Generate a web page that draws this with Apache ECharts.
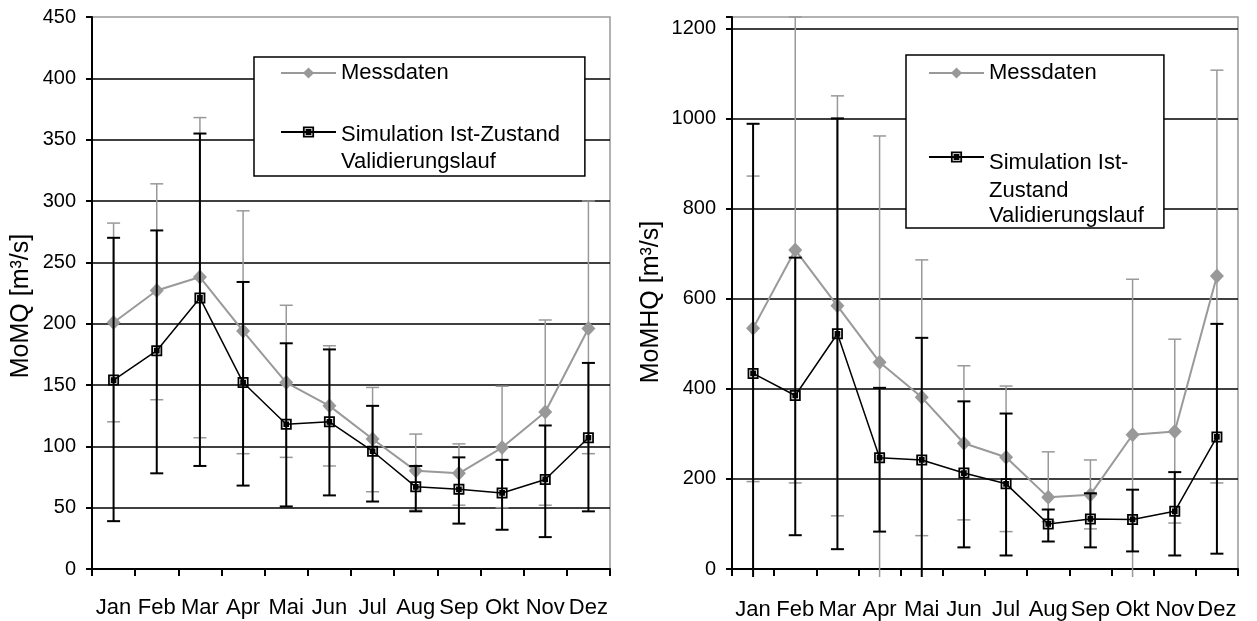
<!DOCTYPE html>
<html><head><meta charset="utf-8">
<script src="https://cdn.jsdelivr.net/npm/echarts@6/dist/echarts.min.js"></script>
<style>html,body{margin:0;padding:0;background:#fff}#c{width:1257px;height:621px}</style>
</head><body><div id="c"></div>
<script>
// ---- data ----
const months = ['Jan','Feb','Mar','Apr','Mai','Jun','Jul','Aug','Sep','Okt','Nov','Dez'];
const seriesNames = ['Messdaten', 'Simulation Ist-Zustand Validierungslauf'];
const legendLinesLeft = [['Messdaten'], ['Simulation Ist-Zustand', 'Validierungslauf']];
const legendLinesRight = [['Messdaten'], ['Simulation Ist-', 'Zustand', 'Validierungslauf']];
const yTitleLeft = 'MoMQ [m³/s]';
const yTitleRight = 'MoMHQ [m³/s]';

// left: MoMQ
const messMQ      = [201, 227, 238, 194, 152, 133, 106, 80, 78, 99, 128, 196];
const messMQLow   = [120, 138, 107, 94, 91, 84, 63, 48, 52, 50, 52, 94];
const messMQHigh  = [282, 314, 368, 292, 215, 182, 148, 110, 102, 149, 203, 300];
const simMQ       = [154, 178, 221, 152, 118, 120, 96, 67, 65, 62, 73, 107];
const simMQLow    = [39, 78, 84, 68, 51, 60, 55, 47, 37, 32, 26, 47];
const simMQHigh   = [270, 276, 355, 234, 184, 179, 133, 84, 91, 89, 117, 168];

// right: MoMHQ
const messMHQ     = [534, 708, 584, 459, 381, 279, 248, 159, 165, 298, 305, 650];
const messMHQLow  = [194, 191, 118, -60, 74, 109, 83, 105, 89, -60, 102, 191];
const messMHQHigh = [872, 1225, 1050, 961, 686, 451, 406, 260, 242, 643, 510, 1107];
const simMHQ      = [434, 385, 522, 247, 242, 213, 189, 100, 111, 110, 128, 293];
const simMHQLow   = [-60, 75, 44, 83, -60, 48, 30, 61, 48, 39, 30, 34];
const simMHQHigh  = [988, 691, 1000, 402, 513, 372, 345, 132, 168, 176, 215, 544];

// ---- style ----
const FONT = '"Liberation Sans", Arial, Helvetica, sans-serif';
const GRAY = '#999999';
const BLACK = '#000000';
const simSymbol = 'path://M0,0L10,0L10,10L0,10Z M1.6,1.6L1.6,8.4L8.4,8.4L8.4,1.6Z M2.4,2.4L7.6,2.4L7.6,7.6L2.4,7.6Z';

const chart = echarts.init(document.getElementById('c'), null, {renderer: 'canvas'});

function errSeries(name, idx, lows, highs, color, lw, z) {
  return {
    type: 'custom', name: name, xAxisIndex: idx, yAxisIndex: idx, clip: false, silent: true, z: z,
    animation: false,
    data: lows.map((l, i) => [i, l, highs[i]]),
    encode: {x: 0, y: [1, 2]},
    renderItem: function (params, api) {
      const i = api.value(0), lo = api.value(1), hi = api.value(2);
      const base = api.coord([i, 0]);
      const pHi = api.coord([i, hi]);
      const below = lo < 0;
      const pLo = below ? [base[0], base[1] + 8] : api.coord([i, lo]);
      const half = 6.5;
      const st = {stroke: color, lineWidth: lw, fill: null};
      const children = [
        {type: 'line', shape: {x1: pHi[0], y1: pHi[1], x2: pLo[0], y2: pLo[1]}, style: st},
        {type: 'line', shape: {x1: pHi[0] - half, y1: pHi[1], x2: pHi[0] + half, y2: pHi[1]}, style: st}
      ];
      if (!below) children.push({type: 'line', shape: {x1: pLo[0] - half, y1: pLo[1], x2: pLo[0] + half, y2: pLo[1]}, style: st});
      return {type: 'group', children: children};
    }
  };
}

function lineSeries(name, idx, values, color, width, symbol, size, z) {
  return {
    type: 'line', name: name, xAxisIndex: idx, yAxisIndex: idx, data: values, z: z,
    symbol: symbol, symbolSize: size, showSymbol: true, silent: true, animation: false,
    lineStyle: {color: color, width: width}, itemStyle: {color: color}
  };
}

function xAxis(idx, margin) {
  return {
    type: 'category', gridIndex: idx, data: months, boundaryGap: true,
    axisLine: {show: true, lineStyle: {color: BLACK, width: 2}},
    axisTick: {show: true, length: 7, lineStyle: {color: BLACK, width: 2}},
    axisLabel: {color: BLACK, fontFamily: FONT, fontSize: 22, margin: margin, interval: 0},
    splitLine: {show: false}
  };
}

function yAxis(idx, max, interval, title, gap, pad) {
  return {
    type: 'value', gridIndex: idx, min: 0, max: max, interval: interval,
    name: title, nameLocation: 'middle', nameRotate: 90, nameGap: gap,
    nameTextStyle: {color: BLACK, fontFamily: FONT, fontSize: 25, padding: pad},
    axisLine: {show: true, lineStyle: {color: BLACK, width: 2}},
    axisTick: {show: true, length: 6, lineStyle: {color: BLACK, width: 2}},
    axisLabel: {color: BLACK, fontFamily: FONT, fontSize: 20, margin: 16,
      formatter: v => (v % interval === 0 ? String(v) : '')},
    splitLine: {show: true, showMaxLine: false, lineStyle: {color: BLACK, width: 1.5}}
  };
}

// rich text: a spacer line on top keeps the first text line level with the legend symbol
function richLabel(lines) {
  if (lines.length === 1) return '{t|' + lines[0] + '}';
  return '{e| }\n' + lines.map((s, k) => (k === lines.length - 1 ? '{u|' : '{t|') + s + '}').join('\n');
}

function legend(left, top, pad, gap, lines, eH, uH) {
  const base = {fontFamily: FONT, fontSize: 22, color: BLACK};
  return {
    show: true, orient: 'vertical', left: left, top: top, itemWidth: 55, itemHeight: 14, itemGap: gap,
    padding: pad, borderColor: BLACK, borderWidth: 1.5, backgroundColor: '#ffffff', selectedMode: false,
    textStyle: Object.assign({lineHeight: 28, rich: {
      e: Object.assign({lineHeight: eH}, base),
      t: Object.assign({lineHeight: 28}, base),
      u: Object.assign({lineHeight: uH}, base)
    }}, base),
    data: seriesNames.slice(),
    formatter: n => richLabel(lines[seriesNames.indexOf(n)])
  };
}

chart.setOption({
  animation: false,
  backgroundColor: '#ffffff',
  textStyle: {fontFamily: FONT},
  grid: [
    {left: 92, top: 17, width: 518, height: 552, show: true, borderColor: GRAY, borderWidth: 1.5, backgroundColor: 'transparent'},
    {left: 732, top: 17, width: 506, height: 552, show: true, borderColor: GRAY, borderWidth: 1.5, backgroundColor: 'transparent'}
  ],
  xAxis: [xAxis(0, 28), xAxis(1, 30)],
  yAxis: [yAxis(0, 450, 50, yTitleLeft, 58, [0, 26, 0, 0]), yAxis(1, 1225, 200, yTitleRight, 68, [0, 18, 0, 0])],
  legend: [
    legend(254, 57, [2, 25, 1, 26], 2, legendLinesLeft, 32, 26),
    legend(906, 55, [4, 20, 1, 22], 0, legendLinesRight, 62, 22)
  ],
  series: [
    errSeries('err-mess-l', 0, messMQLow, messMQHigh, GRAY, 1.5, 2),
    lineSeries(seriesNames[0], 0, messMQ, GRAY, 2, 'diamond', [14, 15], 3),
    errSeries('err-sim-l', 0, simMQLow, simMQHigh, BLACK, 2, 4),
    lineSeries(seriesNames[1], 0, simMQ, BLACK, 1.5, simSymbol, 11, 5),
    errSeries('err-mess-r', 1, messMHQLow, messMHQHigh, GRAY, 1.5, 2),
    lineSeries(seriesNames[0], 1, messMHQ, GRAY, 2, 'diamond', [14, 15], 3),
    errSeries('err-sim-r', 1, simMHQLow, simMHQHigh, BLACK, 2, 4),
    lineSeries(seriesNames[1], 1, simMHQ, BLACK, 1.5, simSymbol, 11, 5)
  ]
});
</script>
</body></html>
